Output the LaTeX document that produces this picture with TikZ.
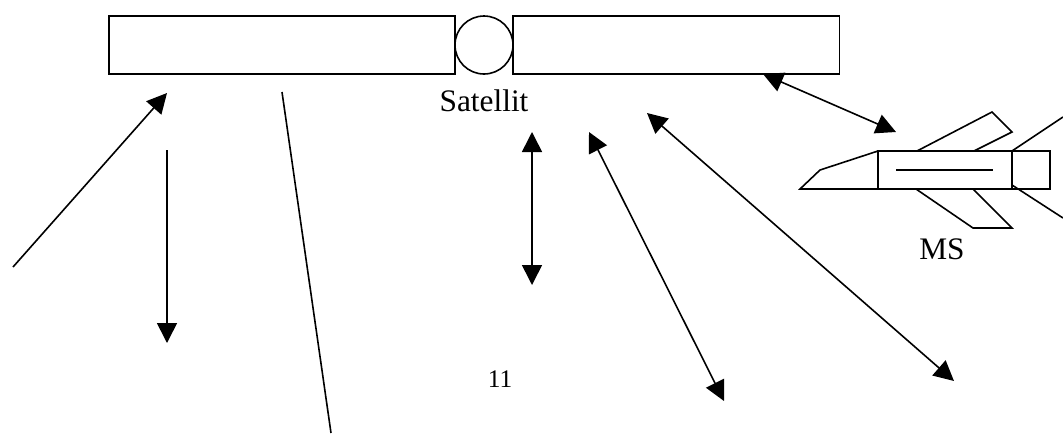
\documentclass[tikz,border=0pt]{standalone}
\usepackage{fontspec}
\setmainfont{Liberation Serif}
\usetikzlibrary{arrows.meta, positioning}

\begin{document}
\begin{tikzpicture}[
    x=0.75pt, y=-0.75pt,
    line width=1.2pt,
    every node/.style={inner sep=0pt, outer sep=0pt},
    panel/.style={rectangle, draw=black, minimum height=43.5pt},
    hub/.style={circle, draw=black, minimum size=43.5pt},
    body/.style={rectangle, draw=black, minimum height=28.5pt},
    lbl/.style={font=\fontsize{23.5}{28}\selectfont, anchor=base},
    link/.style={-{Triangle[length=15pt, width=15pt]}},
    bidir/.style={{Triangle[length=15pt, width=15pt]}-{Triangle[length=15pt, width=15pt]}}
]
\useasboundingbox (0,0) rectangle (1063,433);

% ================= SATELLITE =================
\node[hub] (hub) at (484,45) {};
\node[panel, minimum width=259.5pt, left=0pt of hub] (leftpanel) {};
\node[panel, minimum width=245pt, right=0pt of hub] (rightpanel) {};
\node[lbl] (satlabel) at (484,111) {Satellit};

% ================= MOBILE STATION =================
\node[body, minimum width=100.5pt, anchor=north west] (fuselage) at (878,151) {};
\node[body, minimum width=28.5pt, right=0pt of fuselage] (tail) {};
\node[lbl] (mslabel) at (942,259) {MS};

\draw (fuselage.north west) -- (820,170) -- (800,189) -- (fuselage.south west);
\draw (896,170) -- (993,170);
\draw (917,151) -- (992,112) -- (1012,132) -- (974,151);
\draw (916,189) -- (973,228) -- (1012,228) -- (973,189);
\draw (fuselage.north east) -- (1063,117);
\draw (1012,185) -- (1063,218);

\node[lbl, font=\fontsize{19}{23}\selectfont] (pagenum) at (500,387) {11};

% ================= LINK ENDS =================
\coordinate (upfrom) at (13,267);
\coordinate (upto) at (167,93);
\coordinate (downfrom) at (167,150);
\coordinate (downto) at (167,343);
\coordinate (linefrom) at (282,92);
\coordinate (lineto) at (331,433);
\coordinate (vertical top) at (532,132);
\coordinate (vertical bot) at (532,285);
\coordinate (mid top) at (589,132);
\coordinate (mid bot) at (724,401);
\coordinate (far top) at (647,113);
\coordinate (far bot) at (954,381);
\coordinate (ms top) at (763,74);
\coordinate (ms bot) at (896,132);

\draw[link] (upfrom) -- (upto);
\draw[link] (downfrom) -- (downto);
\draw (linefrom) -- (lineto);
\draw[bidir] (vertical top) -- (vertical bot);
\draw[bidir] (mid top) -- (mid bot);
\draw[bidir] (far top) -- (far bot);
\draw[bidir] (ms top) -- (ms bot);

\end{tikzpicture}
\end{document}
